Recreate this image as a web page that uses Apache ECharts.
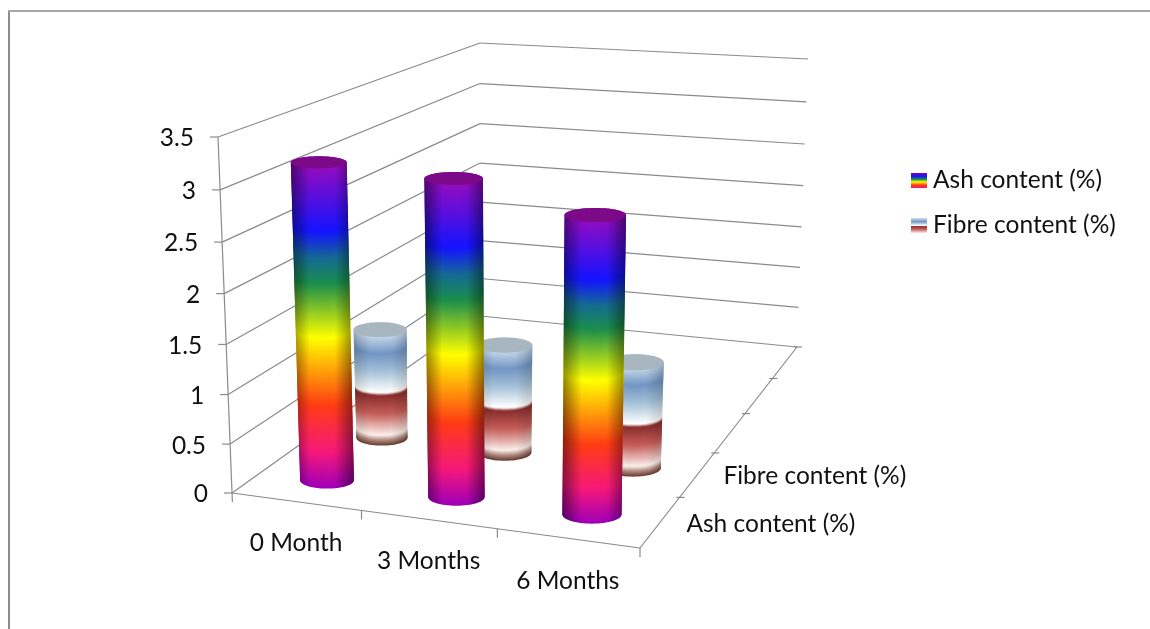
<!DOCTYPE html>
<html><head><meta charset="utf-8">
<style>html,body{margin:0;padding:0;background:#fff}#c{width:1150px;height:629px}</style>
<script src="https://cdn.jsdelivr.net/npm/echarts@6/dist/echarts.min.js"></script>
</head><body><div id="c"></div>
<script>
const categories = ['0 Month', '3 Months', '6 Months'];
const depthLabels = ['Ash content (%)', 'Fibre content (%)', '', '', ''];
const seriesNames = ['Ash content (%)', 'Fibre content (%)'];
const ashValues = [3.19, 3.13, 2.89];
const fibreValues = [1.18, 1.15, 1.11];
const valueTicks = [0, 0.5, 1, 1.5, 2, 2.5, 3, 3.5];
const valueMax = 3.5;

// camera calibration of the 3D box: [u,d] corners -> screen, floor and ceiling planes
const floorQuad = [[232,493],[640,548],[797,347],[480,316]];
const ceilQuad  = [[218,137],[647,167],[808,59],[480,43]];
const heightPerspective = 0.955;
const FONT = 'Lato';
const LABEL = '#111';
const LINE = '#8a8a8a';
const FS = '24.5px ';

function homography(q){
  const [[x0,y0],[x1,y1],[x2,y2],[x3,y3]] = q;
  const dx1=x1-x2, dx2=x3-x2, sx=x0-x1+x2-x3, dy1=y1-y2, dy2=y3-y2, sy=y0-y1+y2-y3;
  const D=dx1*dy2-dx2*dy1, g=(sx*dy2-dx2*sy)/D, h=(dx1*sy-sx*dy1)/D;
  return (u,v)=>{const w=g*u+h*v+1;
    return [((x1-x0+g*x1)*u+(x3-x0+h*x3)*v+x0)/w, ((y1-y0+g*y1)*u+(y3-y0+h*y3)*v+y0)/w];};
}
const F = homography(floorQuad), C = homography(ceilQuad);
function project(u,d,t){
  const a=F(u,d), b=C(u,d), w=heightPerspective, f=w*t/(1+(w-1)*t);
  return [a[0]+(b[0]-a[0])*f, a[1]+(b[1]-a[1])*f];
}
// library scales -> normalized box coordinates
function norm(api, params, cat, val){
  const p = api.coord([cat, val]), r = params.coordSys;
  return [(p[0]-r.x)/r.width, 1-(p[1]-r.y)/r.height];
}
function lin(stops){return new echarts.graphic.LinearGradient(0,0,0,1,stops.map(s=>({offset:s[0],color:s[1]})));}
function hex(c){return [parseInt(c.slice(1,3),16),parseInt(c.slice(3,5),16),parseInt(c.slice(5,7),16)];}
function colorAt(stops,f){
  if(f<=stops[0][0]) return stops[0][1];
  for(let i=1;i<stops.length;i++){
    if(f<=stops[i][0]){
      const a=hex(stops[i-1][1]), b=hex(stops[i][1]), k=(f-stops[i-1][0])/(stops[i][0]-stops[i-1][0]);
      return 'rgb('+a.map((v,j)=>Math.round(v+(b[j]-v)*k)).join(',')+')';
    }
  }
  return stops[stops.length-1][1];
}
const ashStops=[[0,'#ac0ab4'],[0.229,'#1414ff'],[0.31,'#156a92'],[0.387,'#1b8f4c'],[0.549,'#ffff00'],[0.753,'#ff3c14'],[0.893,'#f5187a'],[1,'#a000b8']];
const fibreStops=[[0,'#dfeaf2'],[0.1,'#cfe0ee'],[0.26,'#7396c4'],[0.4,'#a3c0d8'],[0.575,'#ffffff'],[0.6,'#8a2e2e'],[0.75,'#c75f5a'],[0.92,'#fbeeea'],[0.96,'#b08a80'],[1,'#6e4034']];
const ashLegend=[[0,'#8a00b0'],[0.22,'#1414ff'],[0.42,'#1b8f4c'],[0.6,'#ffff00'],[0.8,'#ff3c14'],[1,'#f5187a']];
const fibreLegend=[[0,'#cfe0ee'],[0.25,'#7396c4'],[0.5,'#ffffff'],[0.53,'#8a2e2e'],[0.75,'#c75f5a'],[1,'#fbeeea']];

function cylinderRender(depthIndex, stops, topColor, edge){
  return function(params, api){
    const cat=api.value(0), val=api.value(1);
    const d=(depthIndex+0.47)/depthLabels.length;
    const [u0,tTop]=norm(api,params,cat,val);
    const u=u0+0.007;
    const b=project(u,d,0), t=project(u,d,tTop);
    const halfU=0.071;
    const rb=(project(u+halfU,d,0)[0]-project(u-halfU,d,0)[0])/2;
    const rt=rb*1.04;
    const ryB=rb*0.31, ryT=rt*(0.31-0.028*val);
    const top=t[1]-ryT, bot=b[1]+ryB;
    const ch=[];
    const N=Math.ceil(b[1]-t[1]);
    for(let i=0;i<=N;i++){
      const s=i/N, cx=b[0]+(t[0]-b[0])*s, cy=b[1]+(t[1]-b[1])*s, rx=rb+(rt-rb)*s, ry=ryB+(ryT-ryB)*s;
      ch.push({type:'ellipse',shape:{cx,cy,rx,ry},style:{fill:colorAt(stops,(cy+ry-top)/(bot-top))}});
    }
    const pts=[[t[0]-rt,t[1]]];
    for(let i=0;i<=40;i++){const a=Math.PI-Math.PI*i/40; pts.push([b[0]+rb*Math.cos(a),b[1]+ryB*Math.sin(a)]);}
    pts.push([t[0]+rt,t[1]]);
    const minX=Math.min(b[0]-rb,t[0]-rt), maxX=Math.max(b[0]+rb,t[0]+rt);
    const horiz=new echarts.graphic.LinearGradient(minX,0,maxX,0,[
      {offset:0,color:'rgba(0,0,0,'+edge+')'},{offset:0.3,color:'rgba(0,0,0,0)'},
      {offset:0.7,color:'rgba(0,0,0,0)'},{offset:1,color:'rgba(0,0,0,'+edge+')'}],true);
    ch.push({type:'polygon',shape:{points:pts},style:{fill:horiz}});
    ch.push({type:'ellipse',shape:{cx:t[0],cy:t[1],rx:rt,ry:ryT},style:{fill:topColor}});
    return {type:'group',children:ch};
  };
}
function boxRender(params, api){
  const L=(a,b)=>({type:'line',shape:{x1:a[0],y1:a[1],x2:b[0],y2:b[1]},style:{stroke:LINE,lineWidth:1.2}});
  const ch=[];
  valueTicks.forEach(v=>{
    const t=norm(api,params,0,v)[1];
    ch.push(L(project(0,0,t),project(0,1,t)));
    ch.push(L(project(0,1,t),project(1,1,t)));
    const p=project(0,0,t);
    ch.push(L([p[0]-8,p[1]],p));
    ch.push({type:'text',x:p[0]-24,y:p[1]+1.5,style:{text:String(v),fill:LABEL,font:FS+FONT,textAlign:'right',textVerticalAlign:'middle'}});
  });
  const t0=project(0,0,0), t1=project(0,0,1);
  ch.push(L(t1,[t0[0]+0.4,t0[1]+9]));
  ch.push(L(project(0,0,0),project(1,0,0)));
  ch.push(L(project(1,0,0),project(1,1,0)));
  categories.forEach((c,i)=>{
    const u0=i/categories.length, u1=(i+1)/categories.length;
    const p=project(u1,0,0); ch.push(L(p,[p[0],p[1]+9]));
    const m=project((u0+u1)/2,0,0);
    ch.push({type:'text',x:m[0],y:m[1]+41+i,style:{text:c,fill:LABEL,font:FS+FONT,textAlign:'center',textVerticalAlign:'middle'}});
  });
  depthLabels.forEach((c,i)=>{
    const n=depthLabels.length, p=project(1,(i+1)/n,0);
    ch.push(L([p[0]-3,p[1]],[p[0]+5,p[1]]));
    if(c){const m=project(1,(i+0.5)/n,0);
      ch.push({type:'text',x:m[0]+26,y:m[1]+2,style:{text:c,fill:LABEL,font:FS+FONT,textAlign:'left',textVerticalAlign:'middle'}});}
  });
  return {type:'group',children:ch};
}
const chart=echarts.init(document.getElementById('c'),null,{renderer:'canvas'});
chart.setOption({
  animation:false,backgroundColor:'#fff',
  grid:{left:232,top:137,width:408,height:356},
  xAxis:{type:'category',data:categories,show:false},
  yAxis:{type:'value',min:0,max:valueMax,interval:0.5,show:false},
  legend:{orient:'vertical',left:911,top:168,padding:0,itemWidth:16,itemHeight:15,itemGap:20,icon:'rect',
    data:[{name:seriesNames[0],itemStyle:{color:lin(ashLegend)}},{name:seriesNames[1],itemStyle:{color:lin(fibreLegend)}}],
    textStyle:{fontFamily:FONT,fontSize:24.5,lineHeight:24,color:LABEL,padding:[0,0,0,1]}},
  graphic:[
    {type:'rect',shape:{x:8,y:10,width:2,height:619},style:{fill:'#8c8c8c'},silent:true},
    {type:'rect',shape:{x:8,y:10,width:1142,height:2},style:{fill:'#a6a6a6'},silent:true}
  ],
  series:[
    {type:'custom',name:'box',z:1,silent:true,renderItem:boxRender,data:[[0,0]],encode:{x:0,y:1},tooltip:{show:false}},
    {type:'custom',name:seriesNames[0],z:4,renderItem:cylinderRender(0,ashStops,'#7c0a88',0.45),data:ashValues.map((v,i)=>[i,v]),encode:{x:0,y:1}},
    {type:'custom',name:seriesNames[1],z:3,renderItem:cylinderRender(1,fibreStops,'#a8b6bf',0.18),data:fibreValues.map((v,i)=>[i,v]),encode:{x:0,y:1}}
  ]
});
</script></body></html>
